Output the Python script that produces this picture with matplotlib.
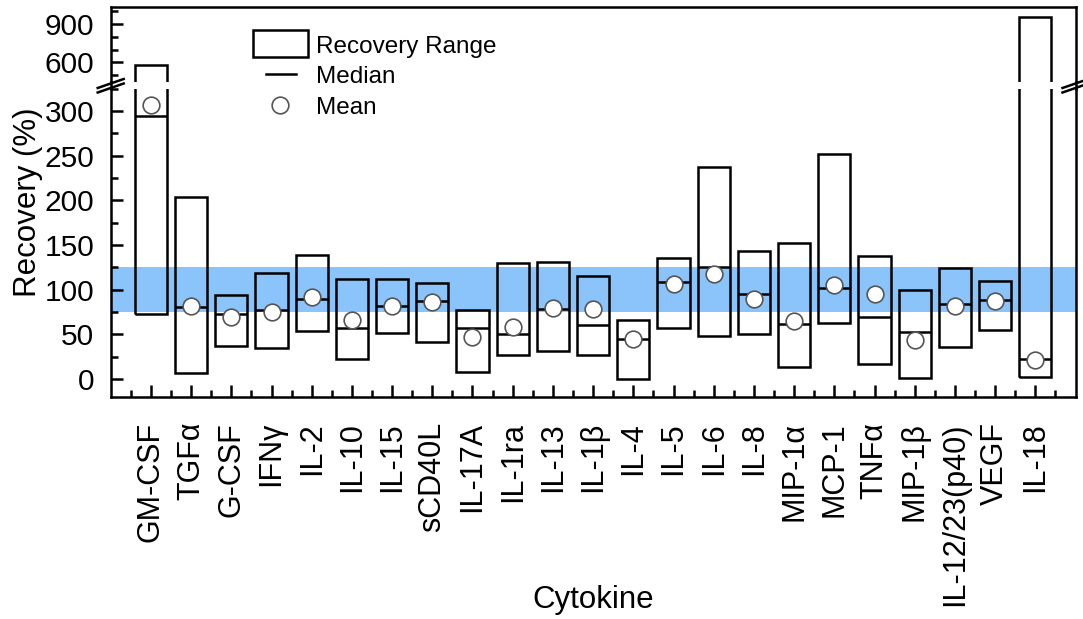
import numpy as np
import matplotlib
matplotlib.use("Agg")
import matplotlib.pyplot as plt
from matplotlib.patches import Rectangle
from matplotlib.lines import Line2D

plt.rcParams['font.family'] = ['Liberation Sans', 'DejaVu Sans']

# =========================
# DATA
# =========================
cytokines = ["GM-CSF", "TGFα", "G-CSF", "IFNγ", "IL-2", "IL-10", "IL-15", "sCD40L",
             "IL-17A", "IL-1ra", "IL-13", "IL-1β", "IL-4", "IL-5", "IL-6", "IL-8",
             "MIP-1α", "MCP-1", "TNFα", "MIP-1β", "IL-12/23(p40)", "VEGF", "IL-18"]
range_low = [73, 7, 37, 35, 54, 22, 52, 42, 8, 27, 32, 27, 0, 57, 48, 50, 13, 63, 17, 1, 36, 55, 2]
range_high = [580, 204, 94, 119, 139, 112, 112, 108, 77, 130, 131, 115, 66, 135, 237, 143,
              152, 252, 138, 100, 124, 110, 952]
median = [294, 81, 73, 77, 90, 57, 82, 87, 57, 50, 78, 60, 45, 109, 125, 95, 62, 102, 69, 53, 84, 88, 22]
mean = [307, 82, 70, 75, 92, 66, 82, 86, 47, 58, 79, 78, 45, 106, 117, 90, 65, 105, 95, 44, 82, 87, 21]
target_band = [75, 125]

lower_ticks = [0, 50, 100, 150, 200, 250, 300]
upper_ticks = [600, 900]

# =========================
# FIGURE / AXES (pixel layout)
# =========================
W, H = 1083, 619
fig = plt.figure(figsize=(W / 100, H / 100), dpi=100)


def fx(px):
    return px / W


def fy(py):
    return 1 - py / H


LEFT, RIGHT = 110.7, 1075.5
LO_TOP, LO_BOT = 88.5, 397
HI_TOP, HI_BOT = 7.3, 82
LW = 1.8

ax_lo = fig.add_axes([fx(LEFT), fy(LO_BOT), (RIGHT - LEFT) / W, (LO_BOT - LO_TOP) / H])
ax_hi = fig.add_axes([fx(LEFT), fy(HI_BOT), (RIGHT - LEFT) / W, (HI_BOT - HI_TOP) / H])

x = np.arange(1, len(cytokines) + 1)
heights = np.subtract(range_high, range_low)

for ax in (ax_lo, ax_hi):
    ax.bar(x, heights, bottom=range_low, width=0.8, fill=False,
           edgecolor='black', linewidth=LW, zorder=3)
    ax.hlines(median, x - 0.4, x + 0.4, color='black', linewidth=LW, zorder=3)
    ax.plot(x, mean, 'o', ms=12, mfc='white', mec='#555555', mew=1.2, zorder=4)
    ax.set_xlim(0, 24)
    for s in ax.spines.values():
        s.set_linewidth(LW)
    ax.tick_params(which='both', direction='in', width=LW, top=False, right=False)
    ax.tick_params(which='major', length=8.6)
    ax.tick_params(which='minor', length=4.7)
    ax.tick_params(axis='y', labelsize=21.5, pad=12)

# target band
ax_lo.axhspan(target_band[0], target_band[1], color='#8AC4FA', lw=0, zorder=1)

# lower segment
ax_lo.set_ylim(-20, 325)
ax_lo.spines['top'].set_visible(False)
ax_lo.set_yticks(lower_ticks)
ax_lo.set_yticks(np.arange(0, 326, 25), minor=True)
ax_lo.set_xticks(x)
ax_lo.set_xticklabels(cytokines, rotation=90)
ax_lo.set_xticks(np.arange(0.5, 24, 1.0), minor=True)
ax_lo.tick_params(axis='x', labelsize=22, pad=18)

# upper segment
ax_hi.set_ylim(446, 1031)
ax_hi.spines['bottom'].set_visible(False)
ax_hi.set_yticks(upper_ticks)
ax_hi.set_yticks([500, 700, 800, 1000], minor=True)
ax_hi.tick_params(axis='x', which='both', bottom=False, labelbottom=False)

# =========================
# AXIS BREAK
# =========================
for sx in (LEFT, RIGHT):
    fig.add_artist(Line2D([fx(sx), fx(sx)], [fy(HI_BOT), fy(LO_TOP)], color='black', lw=LW))
    for yc in (83.5, 88.0):
        fig.add_artist(Line2D([fx(sx - 13), fx(sx + 13)], [fy(yc + 4.5), fy(yc - 4.5)],
                              color='black', lw=LW))

# =========================
# LEGEND (drawn by hand)
# =========================
fig.add_artist(Rectangle((fx(252.7), fy(56.7)), 55 / W, 26.7 / H, fill=False,
                         edgecolor='black', lw=LW, transform=fig.transFigure))
fig.add_artist(Line2D([fx(265.7), fx(295.7)], [fy(74), fy(74)], color='black', lw=LW))
fig.add_artist(Line2D([fx(280)], [fy(105)], marker='o', ms=12, mfc='white',
                      mec='#555555', mew=1.2, ls='none'))
fig.text(fx(316), fy(52.5), 'Recovery Range', fontsize=17.5, va='baseline')
fig.text(fx(316), fy(82.8), 'Median', fontsize=17.5, va='baseline')
fig.text(fx(316), fy(114), 'Mean', fontsize=17.5, va='baseline')

# =========================
# LABELS
# =========================
fig.text(fx(28), fy(202), 'Recovery (%)', fontsize=22.5, rotation=90, ha='center', va='center')
fig.text(fx(593), fy(600), 'Cytokine', fontsize=22.5, ha='center', va='center')

fig.savefig('out.png', dpi=100)
